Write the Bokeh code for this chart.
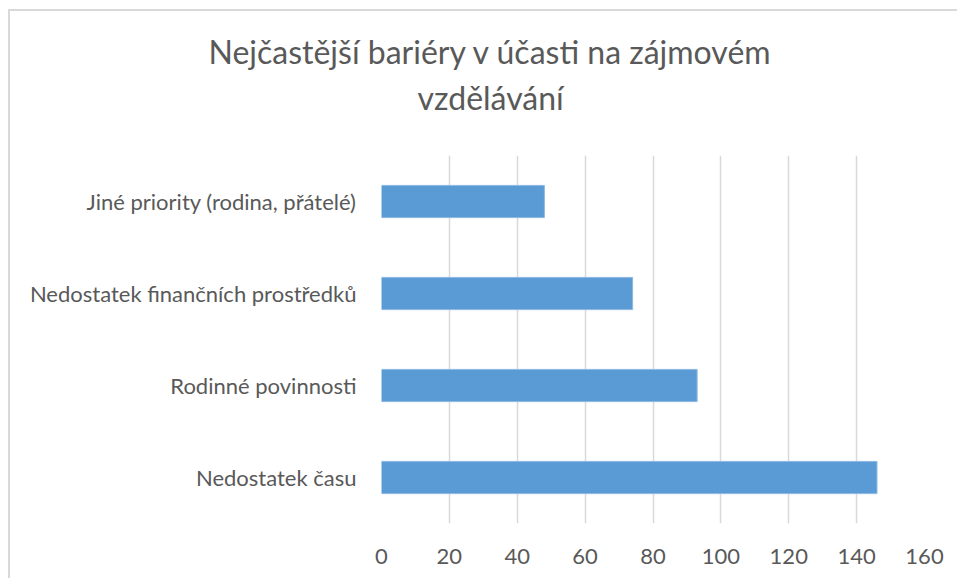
from bokeh.plotting import figure
from bokeh.models import FactorRange, Range1d, FixedTicker, Title, ColumnDataSource
from bokeh.embed import file_html
from bokeh.resources import INLINE

categories = ["Nedostatek času", "Rodinné povinnosti", "Nedostatek finančních prostředků", "Jiné priority (rodina, přátelé)"]
values = [146, 93, 74, 48]
x_ticks = [0, 20, 40, 60, 80, 100, 120, 140, 160]
title_lines = ["Nejčastější bariéry v účasti na zájmovém", "vzdělávání"]

FONT = "Lato"
GRAY = "#595959"

src = ColumnDataSource(data=dict(cat=categories, val=values))

p = figure(
    y_range=FactorRange(factors=categories, range_padding=0),
    x_range=Range1d(0, 160),
    frame_width=543, frame_height=368,
    min_border_left=371, min_border_top=144, min_border_right=33, min_border_bottom=55,
    output_backend="svg", toolbar_location=None,
    background_fill_color="white", border_fill_color="white",
)
p.outline_line_color = None
p.styles = {"border-left": "2px solid #d9d9d9", "border-top": "2px solid #d9d9d9",
            "margin-left": "8px", "margin-top": "9px"}

p.hbar(y="cat", right="val", left=0, height=0.35, source=src,
       fill_color="#5B9BD5", line_color="#8db8e3", line_width=1)

p.xaxis.ticker = FixedTicker(ticks=x_ticks)
p.xgrid.ticker = FixedTicker(ticks=x_ticks)
p.xgrid.grid_line_color = "#d9d9d9"
p.xgrid.grid_line_width = 1.5
p.ygrid.grid_line_color = None

for ax in (p.xaxis[0], p.yaxis[0]):
    ax.axis_line_color = None
    ax.major_tick_line_color = None
    ax.minor_tick_line_color = None
    ax.major_label_text_font = FONT
    ax.major_label_text_font_size = "22px"
    ax.major_label_text_color = GRAY
p.xaxis.major_label_standoff = 19
p.yaxis.major_label_standoff = 19

# spacer between frame and title lines
p.add_layout(Title(text=" ", text_font_size="10px", standoff=26), "above")
p.add_layout(Title(text=title_lines[1], align="left", offset=36, standoff=0,
                   vertical_align="bottom", text_font=FONT, text_font_size="32px",
                   text_font_style="normal", text_color=GRAY), "above")
p.add_layout(Title(text=title_lines[0], align="left", offset=-173, standoff=10,
                   vertical_align="bottom", text_font=FONT, text_font_size="32px",
                   text_font_style="normal", text_color=GRAY), "above")

open("out.html", "w").write(file_html(p, INLINE))
